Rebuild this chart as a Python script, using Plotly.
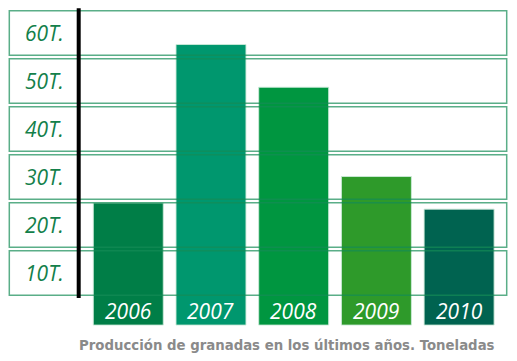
import plotly.graph_objects as go

years = ["2006", "2007", "2008", "2009", "2010"]
values = [19.6, 52.6, 43.7, 25.1, 18.3]
bar_colors = ["#007E47", "#00976E", "#009640", "#2E9A2A", "#006350"]
band_levels = [10, 20, 30, 40, 50, 60]
band_labels = ["10T.", "20T.", "30T.", "40T.", "50T.", "60T."]
title_text = "Producción de granadas en los últimos años. Toneladas"

BASE = -5.85   # bars extend below zero to hold the year labels
GAP = 0.35

fig = go.Figure()
fig.add_trace(go.Bar(
    x=years,
    y=[v - BASE for v in values],
    base=BASE,
    marker=dict(color=bar_colors, line=dict(color="rgba(205,235,218,0.9)", width=1)),
    hoverinfo="skip",
))

shapes = []
for lvl in band_levels:
    shapes.append(dict(
        type="rect", xref="paper", yref="y",
        x0=9.3 / 517, x1=506.7 / 517,
        y0=lvl - 10 + GAP, y1=lvl - GAP,
        line=dict(color="rgba(20,140,85,0.7)", width=1.5),
        fillcolor="rgba(0,0,0,0)", layer="above",
    ))
shapes.append(dict(
    type="line", xref="paper", yref="y",
    x0=78.7 / 517, x1=78.7 / 517, y0=-0.2, y1=60.15,
    line=dict(color="black", width=4), layer="above",
))

annotations = []
for lvl, lab in zip(band_levels, band_labels):
    annotations.append(dict(
        x=44.5 / 517, xref="paper", y=lvl - 5, yref="y",
        text=lab, showarrow=False, xanchor="center", yanchor="middle",
        font=dict(family="Open Sans", size=21, color="#13804A", style="italic"),
    ))
for i, yr in enumerate(years):
    annotations.append(dict(
        x=i, xref="x", y=-2.9, yref="y",
        text=yr, showarrow=False, xanchor="center", yanchor="middle",
        font=dict(family="Open Sans", size=21, color="white", style="italic"),
    ))
annotations.append(dict(
    x=287 / 517, xref="paper", y=1 - 345 / 361, yref="paper",
    text="<b>" + title_text + "</b>", showarrow=False,
    xanchor="center", yanchor="middle",
    font=dict(family="DejaVu Sans", size=13.3, color="#8A8A8A"),
))

fig.update_layout(
    width=517, height=361,
    margin=dict(l=0, r=0, t=0, b=0),
    paper_bgcolor="white", plot_bgcolor="white",
    bargap=0.154,
    showlegend=False,
    shapes=shapes,
    annotations=annotations,
    xaxis=dict(type="category", range=[-1.551, 4.700], visible=False, fixedrange=True),
    yaxis=dict(range=[-13.333, 61.875], visible=False, fixedrange=True),
)

fig.write_html("out.html", config={"displayModeBar": False},
               post_script="document.body.style.margin='0';")
